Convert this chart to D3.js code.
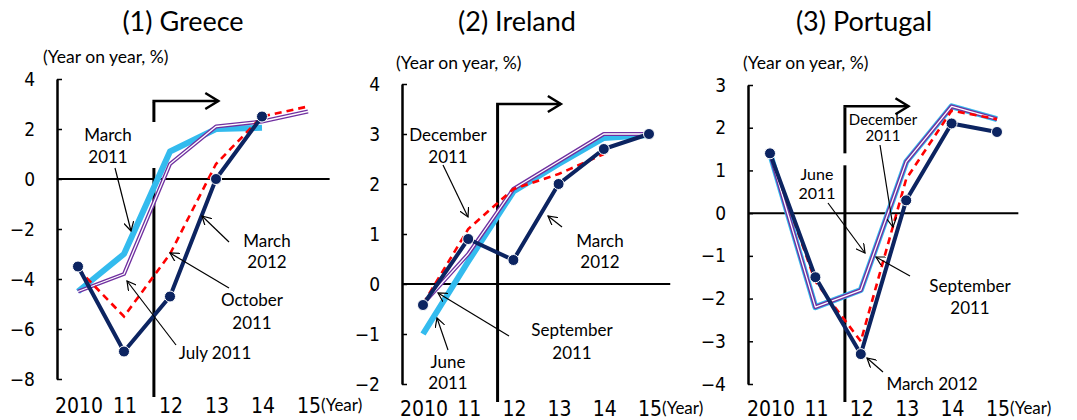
<!DOCTYPE html>
<html lang="en">
<head>
<meta charset="UTF-8">
<title>Greece, Ireland, Portugal</title>
<style>
  body { margin: 0; background: #fff; }
  .tick text { font-family: "Liberation Sans Narrow", "DejaVu Sans Condensed", sans-serif; font-size: 19px; fill: #000; }
  .lbl { font-family: Lato, "Open Sans", sans-serif; fill: #000; }
</style>
</head>
<body>
<script src="https://cdn.jsdelivr.net/npm/d3@7"></script>
<script>
// years and x tick labels
var years = [2010, 2011, 2012, 2013, 2014, 2015];
var xTickLabels = ["2010", "11", "12", "13", "14", "15"];

// (1) Greece
var greeceTicks = [-8, -6, -4, -2, 0, 2, 4];
var greeceMar2011 = [-4.5, -3.0, 1.1, 2.0, 2.05];
var greeceJul2011 = [-4.5, -3.8, 0.6, 2.1, 2.3, 2.7];
var greeceOct2011 = [-3.6, -5.5, -3.0, 0.6, 2.5, 2.9];
var greeceMar2012 = [-3.5, -6.9, -4.7, 0.0, 2.5];

// (2) Ireland
var irelandTicks = [-2, -1, 0, 1, 2, 3, 4];
var irelandJun2011 = [-1.0, 0.45, 1.85, 2.4, 2.92, 2.98];
var irelandSep2011 = [-0.4, 0.6, 1.9, 2.45, 3.0, 3.0];
var irelandDec2011 = [-0.4, 1.1, 1.9, 2.2, 2.6];
var irelandMar2012 = [-0.42, 0.9, 0.48, 2.0, 2.7, 3.0];

// (3) Portugal
var portugalTicks = [-4, -3, -2, -1, 0, 1, 2, 3];
var portugalJun2011 = [1.4, -2.2, -1.8, 1.2, 2.5, 2.2];
var portugalSep2011 = [1.4, -2.2, -1.8, 1.2, 2.5, 2.2];
var portugalDec2011 = [1.4, -1.6, -3.0, 0.8, 2.4, 2.2];
var portugalMar2012 = [1.4, -1.5, -3.3, 0.3, 2.1, 1.9];

var navy = "#0c2461", lightBlue = "#33bbee", purple = "#7030a0", red = "#ff0000";

var panels = [
  { title: "(1) Greece", titleX: 183, unitX: 43, unitY: 63,
    xRange: [78, 308], yDomain: [-8, 4], yRange: [379, 79], axisX: 57, ticks: greeceTicks,
    nowTop: 3.08, gap: [2.28, 0.44], xLblY: 413,
    series: [
      { v: greeceMar2011, s: "blue" }, { v: greeceJul2011, s: "purple" },
      { v: greeceOct2011, s: "red" }, { v: greeceMar2012, s: "navy" } ],
    notes: [
      { t: ["March", "2011"], x: 108, y: 135, lh: 22, fs: 17, a: [115, 168, 131, 231] },
      { t: ["March", "2012"], x: 267, y: 241, lh: 21, fs: 17, a: [229, 242, 202, 216] },
      { t: ["October", "2011"], x: 252, y: 300, lh: 23, fs: 17, a: [229, 288, 170, 253] },
      { t: ["July 2011"], x: 215, y: 353, lh: 0, fs: 17, a: [176, 345, 127, 281] } ] },
  { title: "(2) Ireland", titleX: 517, unitX: 396, unitY: 69,
    xRange: [423, 649], yDomain: [-2, 4], yRange: [384, 84], axisX: 402, ticks: irelandTicks,
    nowTop: 3.58, gap: null, xLblY: 416,
    series: [
      { v: irelandJun2011, s: "blue" }, { v: irelandSep2011, s: "purple" },
      { v: irelandDec2011, s: "red" }, { v: irelandMar2012, s: "navy" } ],
    notes: [
      { t: ["December", "2011"], x: 448, y: 135, lh: 22, fs: 17, a: [443, 165, 468, 217] },
      { t: ["March", "2012"], x: 600, y: 241, lh: 21, fs: 17, a: [562, 227, 548, 216] },
      { t: ["September", "2011"], x: 572, y: 330, lh: 23, fs: 17, a: [509, 336, 438, 293] },
      { t: ["June", "2011"], x: 448, y: 362, lh: 21, fs: 17, a: [448, 350, 437, 318] } ] },
  { title: "(3) Portugal", titleX: 864, unitX: 743, unitY: 69,
    xRange: [770, 997], yDomain: [-4, 3], yRange: [384, 85], axisX: 748, ticks: portugalTicks,
    nowTop: 2.48, gap: [1.4, 1.12], xLblY: 416,
    series: [
      { v: portugalJun2011, s: "blue" }, { v: portugalSep2011, s: "purple" },
      { v: portugalDec2011, s: "red" }, { v: portugalMar2012, s: "navy" } ],
    notes: [
      { t: ["December", "2011"], x: 883, y: 119, lh: 16, fs: 15, a: [880, 145, 893, 227] },
      { t: ["June", "2011"], x: 817, y: 174, lh: 19, fs: 16, a: [828, 203, 865, 253] },
      { t: ["September", "2011"], x: 970, y: 286, lh: 22, fs: 17, a: [910, 276, 876, 257] },
      { t: ["March 2012"], x: 932, y: 384, lh: 0, fs: 17, a: [883, 372, 867, 358] } ] }
];

var svg = d3.select("body").append("svg").attr("width", 1077).attr("height", 420);

// small open arrowhead for the note leaders
svg.append("defs").append("marker")
  .attr("id", "head").attr("viewBox", "0 0 10 10").attr("refX", 9).attr("refY", 5)
  .attr("markerWidth", 10).attr("markerHeight", 10).attr("markerUnits", "userSpaceOnUse")
  .attr("orient", "auto")
  .append("path").attr("d", "M0,0 L9,5 L0,10").attr("fill", "none").attr("stroke", "#000").attr("stroke-width", 1.2);

panels.forEach(function(p) {
  var x = d3.scaleLinear().domain([2010, 2015]).range(p.xRange);
  var y = d3.scaleLinear().domain(p.yDomain).range(p.yRange);
  var g = svg.append("g");

  g.append("text").attr("class", "lbl").attr("x", p.titleX).attr("y", 31)
    .attr("text-anchor", "middle").style("font-size", "27px").text(p.title);
  g.append("text").attr("class", "lbl").attr("x", p.unitX).attr("y", p.unitY)
    .style("font-size", "17.5px").text("(Year on year, %)");

  // y axis, ticks pointing inward
  var ax = g.append("g").attr("transform", "translate(" + p.axisX + ",0)")
    .call(d3.axisLeft(y).tickValues(p.ticks).tickSizeInner(-5).tickSizeOuter(0).tickPadding(22)
      .tickFormat(function(d) { return d < 0 ? "\u2212" + Math.abs(d) : d; }));
  ax.select(".domain").attr("stroke", "#000").attr("stroke-width", 2.5);
  ax.selectAll(".tick line").attr("stroke", "#000").attr("stroke-width", 1.5);

  // zero line
  g.append("line").attr("x1", p.axisX).attr("x2", x(2015.47)).attr("y1", y(0)).attr("y2", y(0))
    .attr("stroke", "#000").attr("stroke-width", 2);

  // "now" marker with arrow
  var nx = x(2011.65), bottom = p.yRange[0] + 18;
  var segs = p.gap ? [[y(p.nowTop), y(p.gap[0])], [y(p.gap[1]), bottom]] : [[y(p.nowTop), bottom]];
  segs.forEach(function(s) {
    g.append("line").attr("x1", nx).attr("x2", nx).attr("y1", s[0]).attr("y2", s[1])
      .attr("stroke", "#000").attr("stroke-width", 3);
  });
  var ay = y(p.nowTop) - 1, ax2 = x(2013.05);
  g.append("path").attr("d", "M" + (nx - 1.5) + "," + ay + "H" + ax2)
    .attr("stroke", "#000").attr("stroke-width", 2.5).attr("fill", "none");
  g.append("path").attr("d", "M" + (ax2 - 13) + "," + (ay - 8) + "L" + ax2 + "," + ay + "L" + (ax2 - 13) + "," + (ay + 8))
    .attr("stroke", "#000").attr("stroke-width", 2.5).attr("fill", "none");

  var line = d3.line().x(function(d, i) { return x(years[i]); }).y(function(d) { return y(d); });

  p.series.forEach(function(s) {
    if (s.s === "blue") {
      g.append("path").attr("d", line(s.v)).attr("fill", "none").attr("stroke", lightBlue)
        .attr("stroke-width", 6).attr("stroke-linejoin", "round");
    } else if (s.s === "purple") {
      g.append("path").attr("d", line(s.v)).attr("fill", "none").attr("stroke", purple)
        .attr("stroke-width", 4).attr("stroke-linejoin", "round");
      g.append("path").attr("d", line(s.v)).attr("fill", "none").attr("stroke", "#fff")
        .attr("stroke-width", 1.3).attr("stroke-linejoin", "round");
    } else if (s.s === "red") {
      g.append("path").attr("d", line(s.v)).attr("fill", "none").attr("stroke", red)
        .attr("stroke-width", 2.6).attr("stroke-dasharray", "7,5");
    } else {
      g.append("path").attr("d", line(s.v)).attr("fill", "none").attr("stroke", navy)
        .attr("stroke-width", 4).attr("stroke-linejoin", "round");
      g.selectAll(null).data(s.v).enter().append("circle")
        .attr("cx", function(d, i) { return x(years[i]); }).attr("cy", function(d) { return y(d); })
        .attr("r", 5.5).attr("fill", navy).attr("stroke", "#fff").attr("stroke-width", 1);
    }
  });

  // x labels
  g.selectAll(null).data(xTickLabels).enter().append("text")
    .attr("x", function(d, i) { return x(years[i]) + 1; }).attr("y", p.xLblY)
    .attr("text-anchor", "middle")
    .style("font-family", "'Liberation Sans Narrow', 'DejaVu Sans Condensed', sans-serif")
    .style("font-size", "21px").text(function(d) { return d; });
  g.append("text").attr("class", "lbl").attr("x", x(2015) + 13).attr("y", p.xLblY - 2)
    .style("font-size", "17px").text("(Year)");

  // notes
  p.notes.forEach(function(n) {
    g.append("line").attr("x1", n.a[0]).attr("y1", n.a[1]).attr("x2", n.a[2]).attr("y2", n.a[3])
      .attr("stroke", "#000").attr("stroke-width", 1.2).attr("marker-end", "url(#head)");
    n.t.forEach(function(t, i) {
      g.append("text").attr("class", "lbl").attr("x", n.x).attr("y", n.y + i * n.lh + 6)
        .attr("text-anchor", "middle").style("font-size", n.fs + "px").text(t);
    });
  });
});
</script>
</body>
</html>
